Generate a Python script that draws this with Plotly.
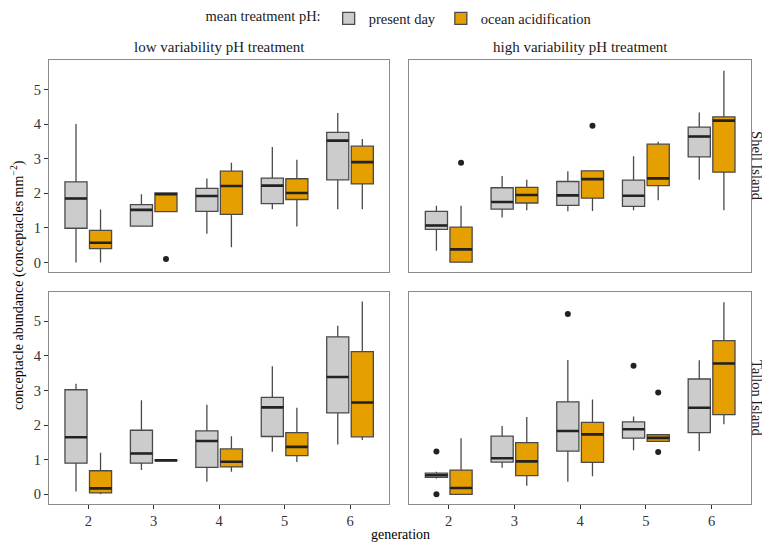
import plotly.graph_objects as go

generations = [2, 3, 4, 5, 6]
gen_labels = ["2", "3", "4", "5", "6"]
y_ticks = [0, 1, 2, 3, 4, 5]

series_names = ["present day", "ocean acidification"]
series_fill = ["#CCCCCC", "#E69F00"]
column_titles = ["low variability pH treatment", "high variability pH treatment"]
row_titles = ["Shell Island", "Tallon Island"]

# per generation: (lower whisker, q1, median, q3, upper whisker)
shell_low_pd = [(0.00, 0.99, 1.85, 2.33, 4.00), (1.05, 1.05, 1.52, 1.67, 1.97), (0.83, 1.48, 1.92, 2.14, 2.43),
                (1.54, 1.70, 2.22, 2.44, 3.34), (1.54, 2.39, 3.52, 3.76, 4.32)]
shell_low_oa = [(0.00, 0.40, 0.57, 0.93, 1.53), (1.47, 1.47, 1.97, 2.01, 2.01), (0.44, 1.39, 2.21, 2.64, 2.88),
                (1.04, 1.82, 2.01, 2.42, 2.97), (1.54, 2.27, 2.90, 3.36, 3.57)]
shell_high_pd = [(0.34, 0.96, 1.07, 1.48, 1.64), (1.30, 1.54, 1.75, 2.16, 2.50), (1.48, 1.65, 1.94, 2.34, 2.64),
                 (1.51, 1.62, 1.93, 2.38, 3.07), (2.39, 3.05, 3.64, 3.91, 4.33)]
shell_high_oa = [(0.00, 0.01, 0.38, 1.02, 1.64), (1.51, 1.72, 1.95, 2.17, 2.39), (1.49, 1.86, 2.41, 2.65, 2.65),
                 (1.80, 2.22, 2.43, 3.42, 3.49), (1.51, 2.61, 4.10, 4.21, 5.54)]
tallon_low_pd = [(0.08, 0.90, 1.65, 3.02, 3.19), (0.70, 0.90, 1.18, 1.85, 2.72), (0.36, 0.78, 1.54, 1.83, 2.59),
                 (1.23, 1.67, 2.51, 2.80, 3.70), (1.44, 2.35, 3.39, 4.55, 4.87)]
tallon_low_oa = [(0.00, 0.04, 0.17, 0.68, 1.20), (0.97, 0.97, 0.98, 0.99, 0.99), (0.65, 0.79, 0.94, 1.31, 1.68),
                 (0.93, 1.12, 1.37, 1.78, 2.50), (1.57, 1.66, 2.65, 4.12, 5.57)]
tallon_high_pd = [(0.46, 0.49, 0.55, 0.61, 0.65), (0.77, 0.93, 1.04, 1.68, 1.97), (0.36, 1.25, 1.83, 2.67, 3.88),
                  (1.27, 1.62, 1.88, 2.09, 2.25), (1.25, 1.78, 2.50, 3.33, 3.87)]
tallon_high_oa = [(0.00, 0.00, 0.18, 0.70, 1.62), (0.25, 0.54, 0.95, 1.49, 2.23), (0.52, 0.92, 1.73, 2.08, 2.74),
                  (1.53, 1.53, 1.63, 1.72, 1.72), (2.02, 2.30, 3.78, 4.44, 5.55)]

# outliers per generation
shell_low_pd_out = [[], [], [], [], []]
shell_low_oa_out = [[], [0.10], [], [], []]
shell_high_pd_out = [[], [], [], [], []]
shell_high_oa_out = [[2.88], [], [3.95], [], []]
tallon_low_pd_out = [[], [], [], [], []]
tallon_low_oa_out = [[], [], [], [], []]
tallon_high_pd_out = [[0.00, 1.24], [], [5.21], [3.71], []]
tallon_high_oa_out = [[], [], [], [1.22, 2.94], []]

panels = [
    # (row, col, [pd stats, oa stats], [pd outliers, oa outliers])
    (1, 1, [shell_low_pd, shell_low_oa], [shell_low_pd_out, shell_low_oa_out]),
    (1, 2, [shell_high_pd, shell_high_oa], [shell_high_pd_out, shell_high_oa_out]),
    (2, 1, [tallon_low_pd, tallon_low_oa], [tallon_low_pd_out, tallon_low_oa_out]),
    (2, 2, [tallon_high_pd, tallon_high_oa], [tallon_high_pd_out, tallon_high_oa_out]),
]

FONT = "Liberation Serif"
fig = go.Figure()

for idx, (row, col, stats_pair, out_pair) in enumerate(panels):
    n = idx + 1
    xa = "x" if n == 1 else f"x{n}"
    ya = "y" if n == 1 else f"y{n}"
    for s in range(2):
        st = stats_pair[s]
        lo = [v[0] for v in st]
        q1 = [v[1] for v in st]
        med = [v[2] for v in st]
        q3 = [v[3] for v in st]
        hi = [v[4] for v in st]
        # sample per box: whisker-end observations plus outliers
        samples = [[lo[i], hi[i]] + list(out_pair[s][i]) for i in range(len(generations))]
        fig.add_trace(go.Box(
            x=generations, y=samples, q1=q1, median=med, q3=q3,
            lowerfence=lo, upperfence=hi,
            name=series_names[s], legendgroup=series_names[s], showlegend=(n == 1),
            fillcolor=series_fill[s], line=dict(color="#4a4a4a", width=1.3),
            boxpoints="outliers", jitter=0, pointpos=0,
            marker=dict(color="#222222", size=6, line=dict(width=0)),
            offsetgroup=f"g{s}", alignmentgroup="a",
            whiskerwidth=0, xaxis=xa, yaxis=ya, hoverinfo="skip",
        ))
        # thicker median line overlay
        fig.add_trace(go.Box(
            x=generations, q1=med, median=med, q3=med, lowerfence=med, upperfence=med,
            name=series_names[s] + " median", legendgroup=series_names[s], showlegend=False,
            fillcolor=series_fill[s], line=dict(color="#222222", width=2.6),
            boxpoints=False, offsetgroup=f"g{s}", alignmentgroup="a",
            whiskerwidth=0, xaxis=xa, yaxis=ya, hoverinfo="skip",
        ))

# the page body adds an 8px offset, so the figure is 8px smaller than the window
W, H = 762, 536
ml, mr, mt, mb = 41.3, 19.3, 51.5, 39.7
pw = W - ml - mr
ph = H - mt - mb
col_dom = [[0, 340.0 / pw], [360.0 / pw, 1]]
row_dom = [[(ph - 212.6) / ph, 1], [0, 212.6 / ph]]

axis_common = dict(showline=True, mirror=True, linecolor="#8c8c8c", linewidth=1,
                   showgrid=False, zeroline=False, ticks="outside", ticklen=4,
                   tickcolor="#333333", tickwidth=1,
                   tickfont=dict(family=FONT, size=14.5, color="#333333"))

layout_axes = {}
for idx, (row, col, _, _) in enumerate(panels):
    n = idx + 1
    xk = "xaxis" if n == 1 else f"xaxis{n}"
    yk = "yaxis" if n == 1 else f"yaxis{n}"
    xa = dict(axis_common, domain=col_dom[col - 1], anchor="y" if n == 1 else f"y{n}",
              range=[1.4, 6.6], tickvals=generations, ticktext=gen_labels)
    ya = dict(axis_common, domain=row_dom[row - 1], anchor="x" if n == 1 else f"x{n}",
              range=[-0.28, 5.85], tickvals=y_ticks)
    if row == 1:
        xa.update(ticks="", showticklabels=False)
    if col == 2:
        ya.update(ticks="", showticklabels=False)
    layout_axes[xk] = xa
    layout_axes[yk] = ya

annotations = []
for c in range(2):
    annotations.append(dict(text=column_titles[c], xref="paper", yref="paper",
                            x=sum(col_dom[c]) / 2, y=1, yshift=13.5, xanchor="center", yanchor="middle",
                            showarrow=False, font=dict(family=FONT, size=15, color="#1a1a1a")))
for r in range(2):
    annotations.append(dict(text=row_titles[r], xref="paper", yref="paper",
                            x=1, xshift=6, y=sum(row_dom[r]) / 2, xanchor="center", yanchor="middle",
                            textangle=90, showarrow=False,
                            font=dict(family=FONT, size=14.5, color="#1a1a1a")))
annotations.append(dict(text="conceptacle abundance (conceptacles mm<sup>\u22122</sup>)",
                        xref="paper", yref="paper", x=0, xshift=-32, y=0.5, yshift=-3,
                        xanchor="center", yanchor="middle", textangle=-90, showarrow=False,
                        font=dict(family=FONT, size=14, color="#000000")))
annotations.append(dict(text="generation", xref="paper", yref="paper", x=0.5, y=0, yshift=-30,
                        xanchor="center", yanchor="middle", showarrow=False,
                        font=dict(family=FONT, size=14, color="#000000")))

fig.update_layout(
    width=W, height=H,
    margin=dict(l=ml, r=mr, t=mt, b=mb),
    paper_bgcolor="white", plot_bgcolor="white",
    boxmode="group", boxgap=0.25, boxgroupgap=0.1,
    font=dict(family=FONT, size=14, color="#1a1a1a"),
    legend=dict(orientation="h", x=0.5, xanchor="center", y=1 - 10.5 / H, yref="container", yanchor="middle",
                title=dict(text="mean treatment pH:", side="left", font=dict(family=FONT, size=14.5)),
                font=dict(family=FONT, size=14.5), itemwidth=30, tracegroupgap=0),
    annotations=annotations,
    **layout_axes,
)

fig.write_html("out.html")
